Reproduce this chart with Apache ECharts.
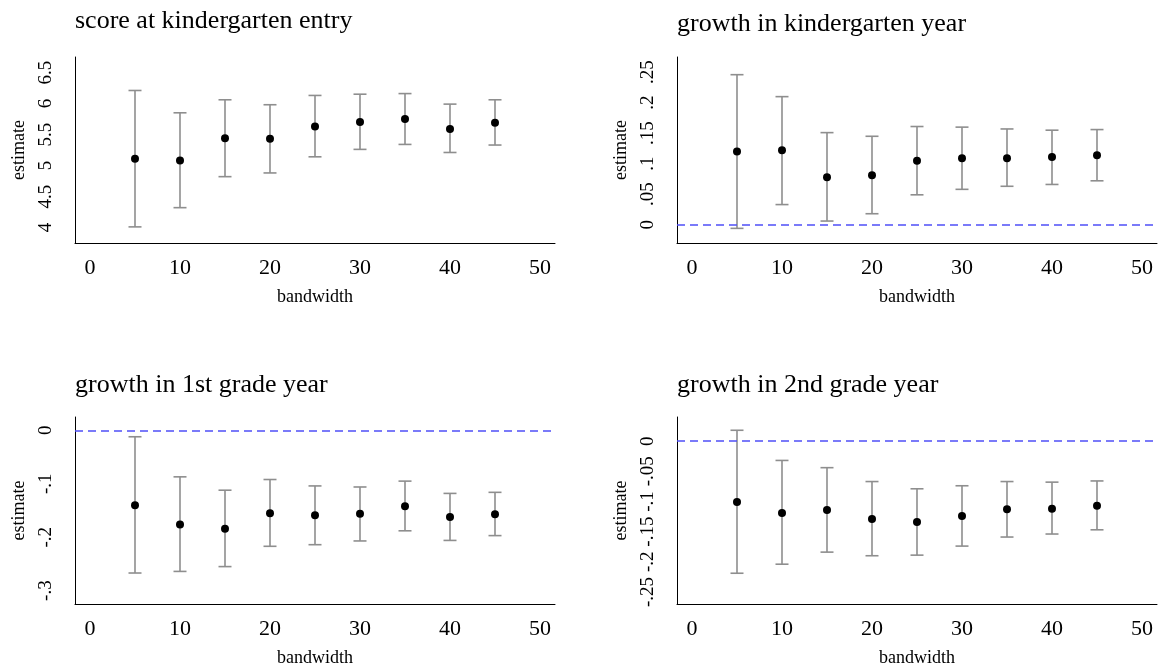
<!DOCTYPE html>
<html>
<head>
<meta charset="utf-8">
<script src="https://cdn.jsdelivr.net/npm/echarts@6/dist/echarts.min.js"></script>
<style>
html,body{margin:0;padding:0;background:#fff;}
#chart{width:1162px;height:671px;}
</style>
</head>
<body>
<div id="chart"></div>
<script>
// ---- data ----
const bandwidth = [5, 10, 15, 20, 25, 30, 35, 40, 45];

const entryEst = [5.11, 5.08, 5.44, 5.43, 5.63, 5.70, 5.75, 5.59, 5.69];
const entryLo  = [4.01, 4.32, 4.82, 4.88, 5.14, 5.26, 5.34, 5.21, 5.33];
const entryHi  = [6.21, 5.85, 6.06, 5.98, 6.13, 6.15, 6.16, 5.99, 6.06];

const kEst = [0.120, 0.122, 0.078, 0.081, 0.105, 0.109, 0.109, 0.111, 0.114];
const kLo  = [-0.006, 0.033, 0.006, 0.018, 0.049, 0.058, 0.063, 0.066, 0.072];
const kHi  = [0.246, 0.210, 0.151, 0.145, 0.161, 0.160, 0.157, 0.155, 0.156];

const g1Est = [-0.140, -0.176, -0.184, -0.155, -0.159, -0.156, -0.142, -0.162, -0.157];
const g1Lo  = [-0.267, -0.264, -0.255, -0.217, -0.214, -0.207, -0.188, -0.206, -0.197];
const g1Hi  = [-0.012, -0.087, -0.112, -0.092, -0.104, -0.106, -0.095, -0.118, -0.116];

const g2Est = [-0.101, -0.119, -0.114, -0.129, -0.134, -0.124, -0.113, -0.112, -0.107];
const g2Lo  = [-0.219, -0.204, -0.184, -0.190, -0.189, -0.174, -0.159, -0.154, -0.147];
const g2Hi  = [0.018, -0.032, -0.044, -0.067, -0.079, -0.074, -0.067, -0.068, -0.066];

const titles = ['score at kindergarten entry', 'growth in kindergarten year',
                'growth in 1st grade year', 'growth in 2nd grade year'];
const xTicks = [0, 10, 20, 30, 40, 50];
const entryTicks = [4, 4.5, 5, 5.5, 6, 6.5];
const kTicks = [0, 0.05, 0.1, 0.15, 0.2, 0.25];
const g1Ticks = [-0.3, -0.2, -0.1, 0];
const g2Ticks = [-0.25, -0.2, -0.15, -0.1, -0.05, 0];

// ---- chart ----
const FONT = "'Liberation Serif', 'Times New Roman', serif";
const panels = [
  {est: entryEst, lo: entryLo, hi: entryHi, ticks: entryTicks, min: 3.75, max: 6.75, zero: false},
  {est: kEst, lo: kLo, hi: kHi, ticks: kTicks, min: -0.03, max: 0.275, zero: true},
  {est: g1Est, lo: g1Lo, hi: g1Hi, ticks: g1Ticks, min: -0.325, max: 0.025, zero: true},
  {est: g2Est, lo: g2Lo, hi: g2Hi, ticks: g2Ticks, min: -0.27, max: 0.04, zero: true}
];
const grids = [
  {left: 75, top: 57, width: 480, height: 186},
  {left: 677, top: 57, width: 480, height: 186},
  {left: 75, top: 417, width: 480, height: 187},
  {left: 677, top: 417, width: 480, height: 187}
];
const titlePos = [[75, 8], [677, 11], [75, 372], [677, 372]];

function fmt(v) {
  let s = String(Math.round(v * 1000) / 1000);
  s = s.replace(/^0\./, '.').replace(/^-0\./, '-.');
  return s;
}

function renderErr(params, api) {
  const x = api.value(0), lo = api.value(1), hi = api.value(2);
  const p1 = api.coord([x, lo]);
  const p2 = api.coord([x, hi]);
  const hw = 6.5;
  const st = {stroke: '#8e8e8e', lineWidth: 1.6};
  return {
    type: 'group',
    children: [
      {type: 'line', shape: {x1: p1[0], y1: p1[1], x2: p2[0], y2: p2[1]}, style: st},
      {type: 'line', shape: {x1: p1[0] - hw, y1: p1[1], x2: p1[0] + hw, y2: p1[1]}, style: st},
      {type: 'line', shape: {x1: p2[0] - hw, y1: p2[1], x2: p2[0] + hw, y2: p2[1]}, style: st}
    ]
  };
}

const xAxes = [], yAxes = [], series = [], titleOpts = [];
panels.forEach((p, i) => {
  titleOpts.push({
    text: titles[i], left: titlePos[i][0], top: titlePos[i][1], padding: 0,
    textStyle: {fontFamily: FONT, fontSize: 26, fontWeight: 'normal', color: '#000'}
  });
  xAxes.push({
    type: 'value', gridIndex: i, min: -5 / 3, max: 155 / 3,
    axisLine: {show: true, onZero: false, lineStyle: {color: '#000', width: 1}},
    axisTick: {show: false}, splitLine: {show: false},
    axisLabel: {customValues: xTicks, fontFamily: FONT, fontSize: 22, color: '#000', margin: 14},
    name: 'bandwidth', nameLocation: 'middle', nameGap: 45,
    nameTextStyle: {fontFamily: FONT, fontSize: 18, color: '#000'}
  });
  yAxes.push({
    type: 'value', gridIndex: i, min: p.min, max: p.max,
    axisLine: {show: true, onZero: false, lineStyle: {color: '#000', width: 1}},
    axisTick: {show: false}, splitLine: {show: false},
    axisLabel: {customValues: p.ticks, rotate: 90, fontFamily: FONT, fontSize: 19, color: '#000',
                margin: 19, formatter: fmt},
    name: 'estimate', nameLocation: 'middle', nameRotate: 90, nameGap: 47,
    nameTextStyle: {fontFamily: FONT, fontSize: 18, color: '#000'}
  });
  series.push({
    type: 'custom', xAxisIndex: i, yAxisIndex: i,
    renderItem: renderErr,
    encode: {x: 0, y: [1, 2]},
    data: bandwidth.map((b, k) => [b, p.lo[k], p.hi[k]]),
    z: 3
  });
  const sc = {
    type: 'scatter', xAxisIndex: i, yAxisIndex: i,
    symbol: 'circle', symbolSize: 8,
    itemStyle: {color: '#000', opacity: 1},
    data: bandwidth.map((b, k) => [b, p.est[k]]),
    z: 4
  };
  if (p.zero) {
    sc.markLine = {
      silent: true, symbol: 'none', label: {show: false},
      lineStyle: {color: '#4f4ff8', type: [8, 5], width: 1.5, opacity: 1},
      data: [{yAxis: 0}]
    };
  }
  series.push(sc);
});

const chart = echarts.init(document.getElementById('chart'));
chart.setOption({
  animation: false,
  backgroundColor: '#fff',
  title: titleOpts,
  grid: grids,
  xAxis: xAxes,
  yAxis: yAxes,
  series: series
});
</script>
</body>
</html>
